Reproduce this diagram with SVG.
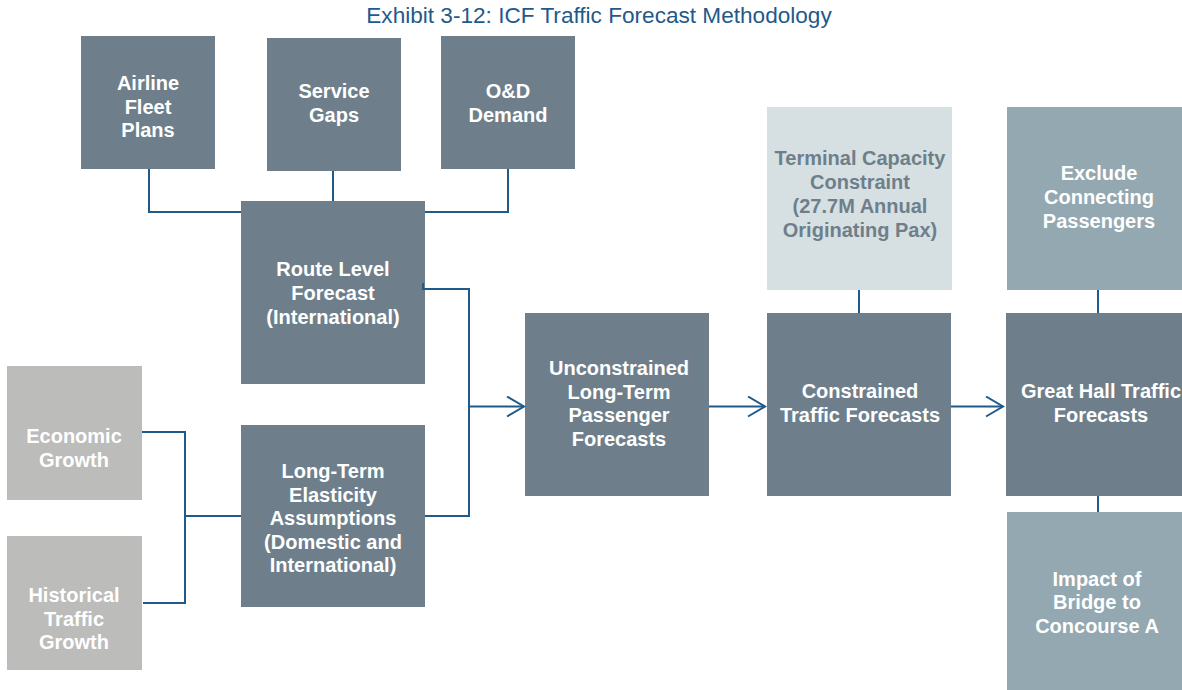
<svg xmlns="http://www.w3.org/2000/svg" width="1182" height="690" viewBox="0 0 1182 690">
  <style>
    .title { font-family: "Liberation Sans", Arial, sans-serif; font-size: 22.6px; fill: #1f5a8a; text-anchor: middle; }
    .lbl { font-family: "Liberation Sans", Arial, sans-serif; font-size: 20px; font-weight: bold; fill: #ffffff; text-anchor: middle; }
    .lbl-dark { fill: #6e7f8b; }
    .slate { fill: #6e7f8b; }
    .grey { fill: #bcbcbb; }
    .teal { fill: #93a8b0; }
    .pale { fill: #d6dfe2; }
    .wire { fill: none; stroke: #1f5a8a; stroke-width: 2; }
  </style>
  <defs>
    <marker id="chevron" markerUnits="userSpaceOnUse" markerWidth="22" markerHeight="24" refX="18" refY="11" orient="auto">
      <path d="M1,1 L18,11 L1,21" fill="none" stroke="#1f5a8a" stroke-width="2"/>
    </marker>
  </defs>

  <rect width="1182" height="690" fill="#ffffff"/>

  <text class="title" x="599" y="23">Exhibit 3-12: ICF Traffic Forecast Methodology</text>

  <!-- inputs to the route level forecast -->
  <g id="airline-fleet-plans">
    <rect class="slate" x="81" y="36" width="134" height="133"/>
    <text class="lbl" x="148" y="90">Airline</text>
    <text class="lbl" x="148" y="113.5">Fleet</text>
    <text class="lbl" x="148" y="137">Plans</text>
  </g>
  <g id="service-gaps">
    <rect class="slate" x="267" y="38" width="134" height="133"/>
    <text class="lbl" x="334" y="98">Service</text>
    <text class="lbl" x="334" y="122">Gaps</text>
  </g>
  <g id="od-demand">
    <rect class="slate" x="441" y="36" width="134" height="133"/>
    <text class="lbl" x="508" y="98">O&amp;D</text>
    <text class="lbl" x="508" y="122">Demand</text>
  </g>

  <g id="route-level-forecast">
    <rect class="slate" x="241" y="201" width="184" height="183"/>
    <text class="lbl" x="333" y="276">Route Level</text>
    <text class="lbl" x="333" y="300">Forecast</text>
    <text class="lbl" x="333" y="324">(International)</text>
  </g>

  <!-- growth drivers -->
  <g id="economic-growth">
    <rect class="grey" x="7" y="366" width="135" height="134"/>
    <text class="lbl" x="74" y="443">Economic</text>
    <text class="lbl" x="74" y="467">Growth</text>
  </g>
  <g id="historical-traffic-growth">
    <rect class="grey" x="7" y="536" width="135" height="134"/>
    <text class="lbl" x="74" y="602">Historical</text>
    <text class="lbl" x="74" y="625.5">Traffic</text>
    <text class="lbl" x="74" y="649">Growth</text>
  </g>

  <g id="elasticity-assumptions">
    <rect class="slate" x="241" y="425" width="184" height="182"/>
    <text class="lbl" x="333" y="478">Long-Term</text>
    <text class="lbl" x="333" y="501.5">Elasticity</text>
    <text class="lbl" x="333" y="525">Assumptions</text>
    <text class="lbl" x="333" y="548.5">(Domestic and</text>
    <text class="lbl" x="333" y="572">International)</text>
  </g>

  <g id="unconstrained-forecasts">
    <rect class="slate" x="525" y="313" width="184" height="183"/>
    <text class="lbl" x="619" y="375">Unconstrained</text>
    <text class="lbl" x="619" y="398.5">Long-Term</text>
    <text class="lbl" x="619" y="422">Passenger</text>
    <text class="lbl" x="619" y="445.5">Forecasts</text>
  </g>

  <g id="terminal-capacity">
    <rect class="pale" x="767" y="107" width="185" height="183"/>
    <text class="lbl lbl-dark" x="860" y="165">Terminal Capacity</text>
    <text class="lbl lbl-dark" x="860" y="189">Constraint</text>
    <text class="lbl lbl-dark" x="860" y="213">(27.7M Annual</text>
    <text class="lbl lbl-dark" x="860" y="237">Originating Pax)</text>
  </g>

  <g id="constrained-forecasts">
    <rect class="slate" x="767" y="313" width="184" height="183"/>
    <text class="lbl" x="860" y="398">Constrained</text>
    <text class="lbl" x="860" y="422">Traffic Forecasts</text>
  </g>

  <g id="exclude-connecting">
    <rect class="teal" x="1007" y="107" width="175" height="183"/>
    <text class="lbl" x="1099" y="180">Exclude</text>
    <text class="lbl" x="1099" y="204">Connecting</text>
    <text class="lbl" x="1099" y="228">Passengers</text>
  </g>

  <g id="great-hall-forecasts">
    <rect class="slate" x="1006" y="313" width="176" height="183"/>
    <text class="lbl" x="1101" y="398">Great Hall Traffic</text>
    <text class="lbl" x="1101" y="422">Forecasts</text>
  </g>

  <g id="bridge-impact">
    <rect class="teal" x="1007" y="512" width="175" height="178"/>
    <text class="lbl" x="1097" y="586">Impact of</text>
    <text class="lbl" x="1097" y="609">Bridge to</text>
    <text class="lbl" x="1097" y="633">Concourse A</text>
  </g>

  <!-- connectors, drawn over the box edges -->
  <g id="connectors">
    <path class="wire" d="M149,169 V212 H241"/>
    <path class="wire" d="M333,171 V201"/>
    <path class="wire" d="M508,169 V212 H425"/>
    <path class="wire" d="M423,283 V289 H469 V516 H425"/>
    <path class="wire" d="M142,432 H185 V603 H143"/>
    <path class="wire" d="M185,516 H241"/>
    <path class="wire" d="M469,406.5 H524" marker-end="url(#chevron)"/>
    <path class="wire" d="M709,406.5 H765" marker-end="url(#chevron)"/>
    <path class="wire" d="M951,406.5 H1003" marker-end="url(#chevron)"/>
    <path class="wire" d="M859,290 V313"/>
    <path class="wire" d="M1098,290 V313"/>
    <path class="wire" d="M1098,496 V512"/>
  </g>
</svg>
